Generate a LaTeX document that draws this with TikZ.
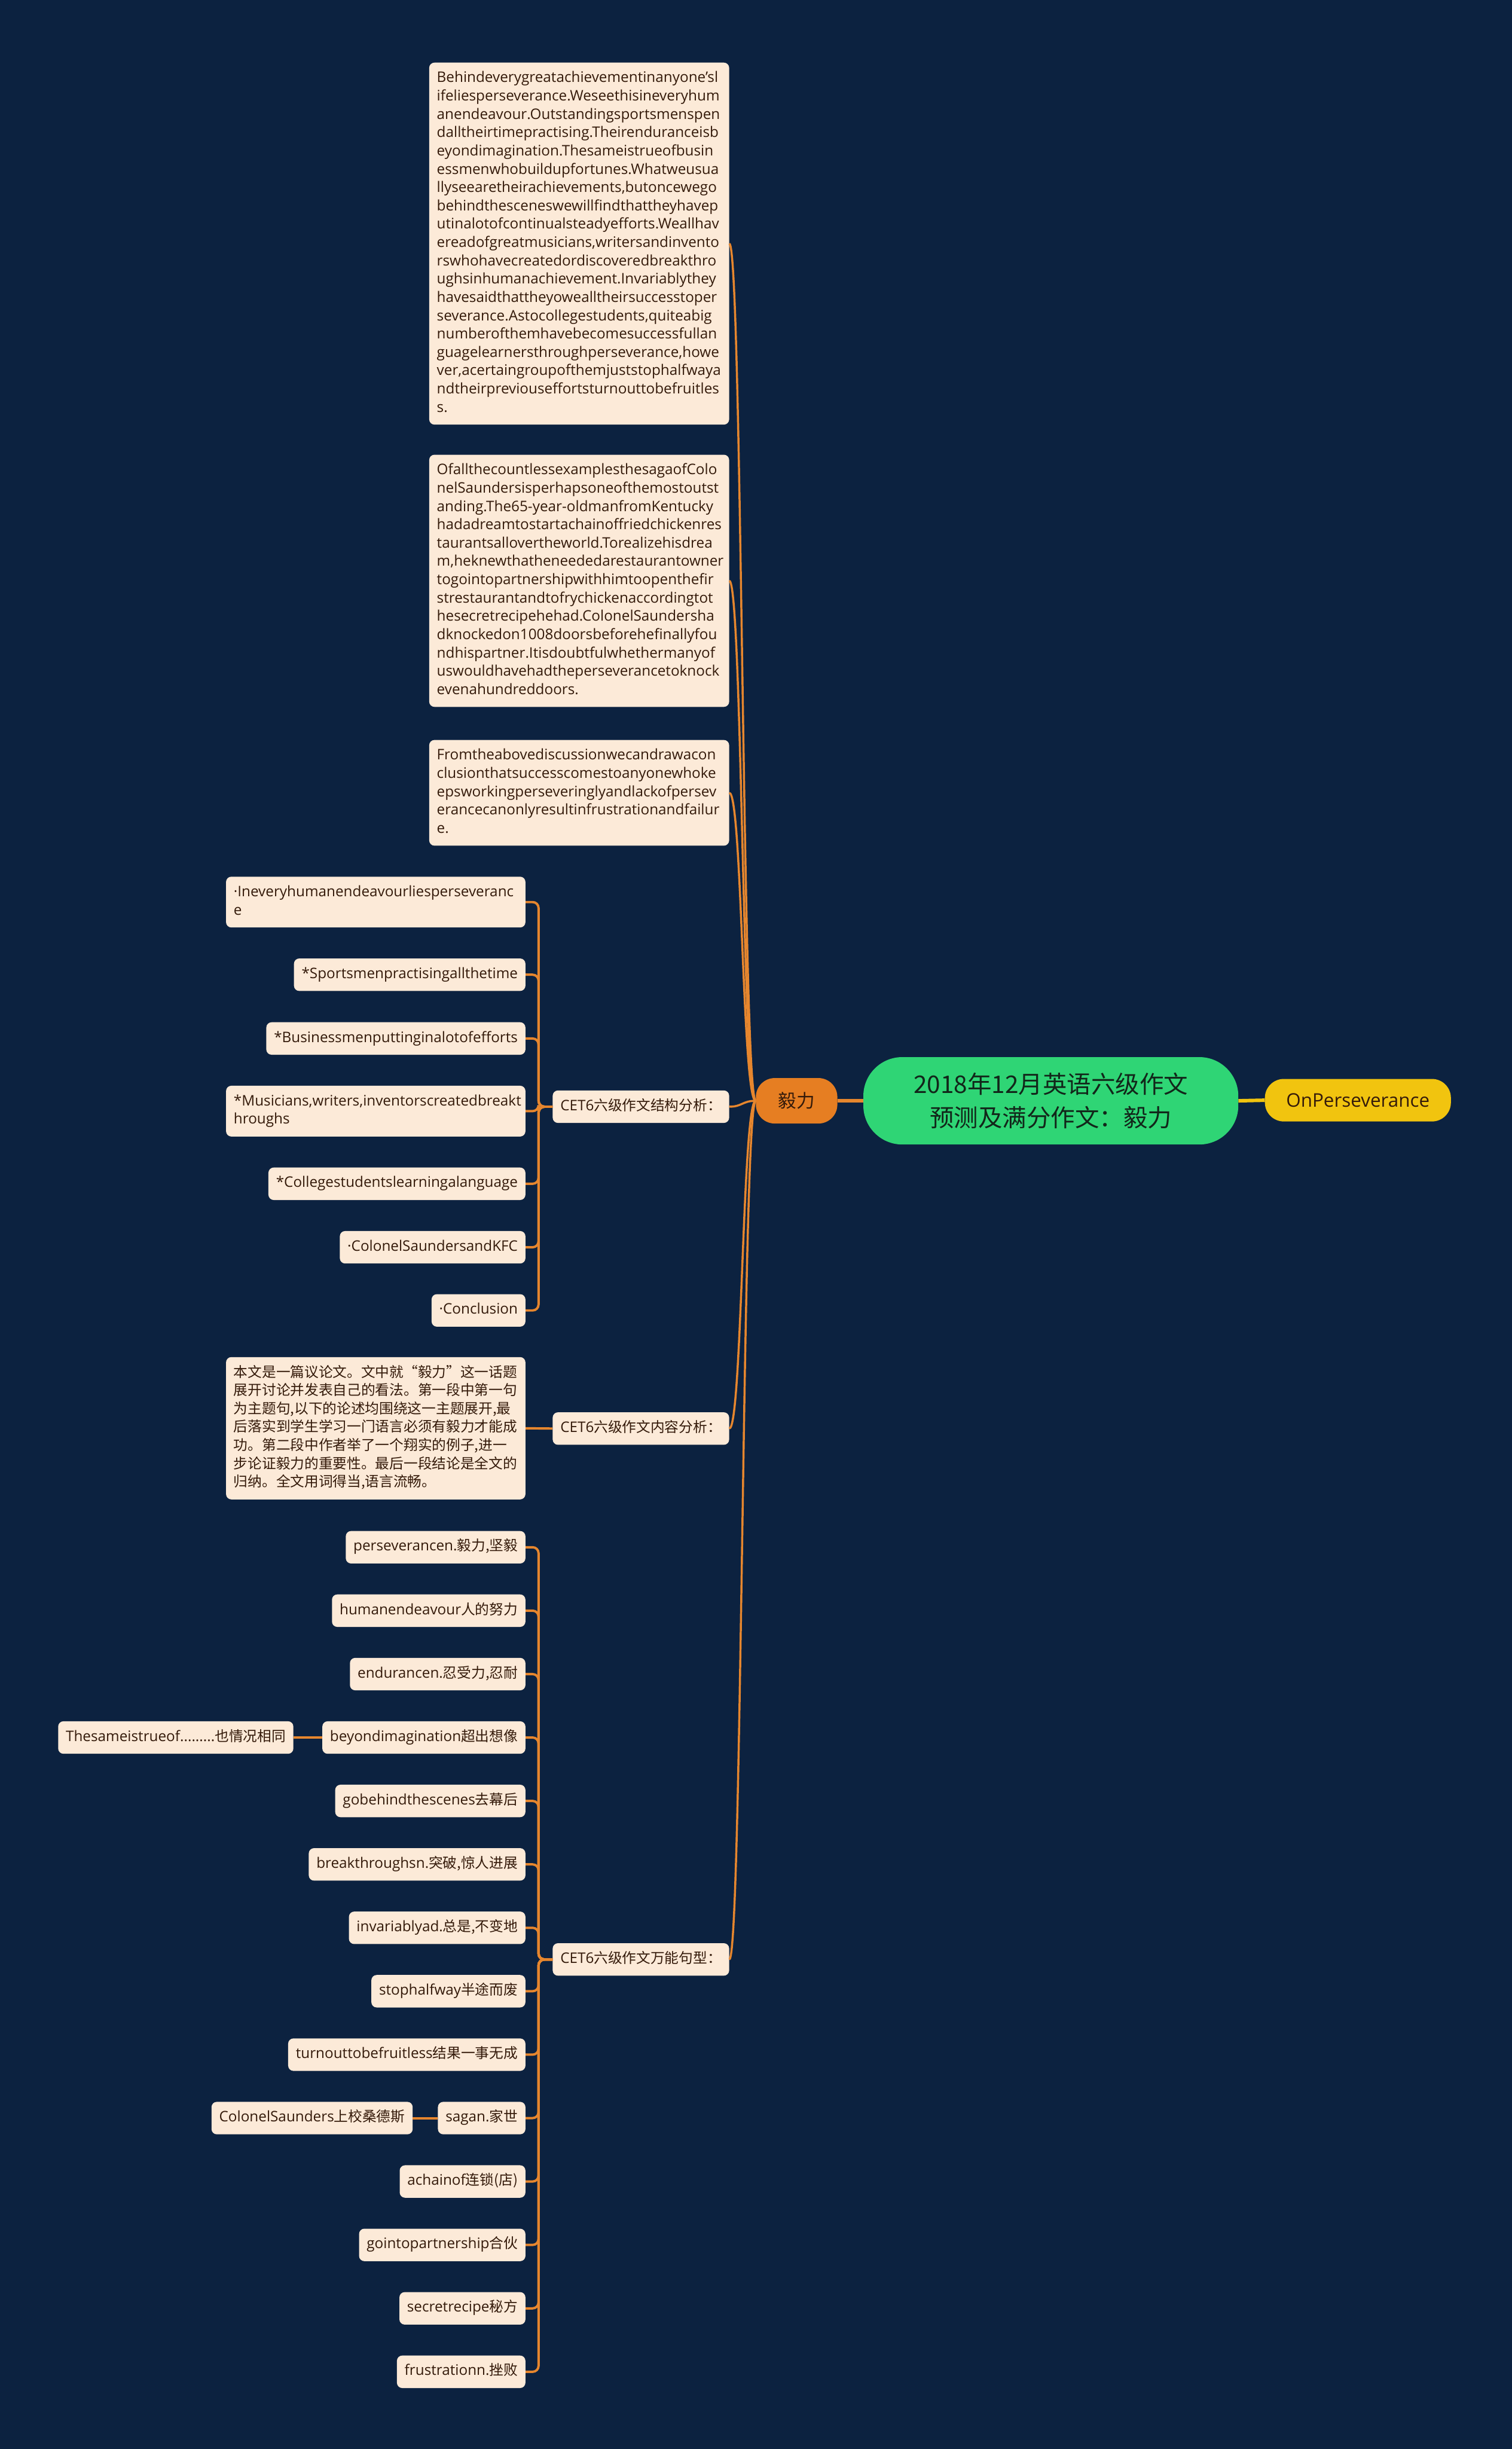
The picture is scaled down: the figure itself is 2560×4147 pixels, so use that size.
\documentclass[tikz,border=0pt]{standalone}
\usepackage{fontspec}
\setmainfont[Scale=1.025]{Open Sans}
\newfontfamily\cjk{Noto Sans CJK SC}
\definecolor{bg}{RGB}{12,34,64}
\definecolor{peach}{RGB}{252,234,216}
\definecolor{txt}{RGB}{52,26,10}
\definecolor{org}{RGB}{230,134,46}
\definecolor{rootg}{RGB}{47,213,117}
\definecolor{yel}{RGB}{241,196,15}
\definecolor{yiliorg}{RGB}{230,126,34}
\definecolor{roottxt}{RGB}{18,38,26}
\def\mystrut{\leavevmode\vrule height21.7pt depth9.3pt width0pt\relax}
\hyphenpenalty=10000
\exhyphenpenalty=10000
\tikzset{
 leaf/.style={fill=peach, text=txt, rounded corners=9pt, inner xsep=13pt, inner ysep=12pt, align=left,
   font=\fontsize{24}{31}\selectfont,
   execute at begin node=\mystrut, execute at end node=\mystrut},
 para/.style={leaf, text width=482pt, anchor=east},
 cleaf/.style={leaf, anchor=east},
 cjkpara/.style={leaf, anchor=east, text width=481pt,
   font=\cjk\fontsize{24}{31}\selectfont},
 trunk/.style={draw=org, line width=3.5pt},
 br/.style={draw=org, line width=4pt, rounded corners=10pt},
 rootnode/.style={fill=rootg, text=roottxt, rounded corners=66pt, minimum width=635pt, minimum height=148pt,
   inner sep=0pt, align=center, font=\cjk\fontsize{41}{57}\selectfont},
 yilinode/.style={fill=yiliorg, text=txt, rounded corners=32pt, minimum width=138pt, minimum height=77pt,
   inner sep=0pt, font=\cjk\fontsize{31}{36}\selectfont},
 onnode/.style={fill=yel, text=txt, rounded corners=32pt, minimum width=315pt, minimum height=72pt,
   inner sep=0pt, font=\fontsize{31}{36}\selectfont},
}
\begin{document}
\begin{tikzpicture}[x=1pt,y=-1pt]
\fill[bg] (0,0) rectangle (2560,4147);
\useasboundingbox (0,0) rectangle (2560,4147);

% central
\node[rootnode] (root) at (1779.5,1864) {2018年12月英语六级作文\\预测及满分作文：毅力};
\node[yilinode] (yili) at (1349,1864) {毅力};
\node[onnode] (on) at (2299.5,1863) {OnPerseverance};
\draw[org, line width=6pt] (yili.east) -- (root.west);
\draw[yel, line width=6pt] (root.east) -- (on.west);

% paragraph boxes
\node[para] (b1) at (1235,412.5) {Behindeverygreatachievementinanyone'sl\\
ifeliesperseverance.Weseethisineveryhum\\
anendeavour.Outstandingsportsmenspen\\
dalltheirtimepractising.Theirenduranceisb\\
eyondimagination.Thesameistrueofbusin\\
essmenwhobuildupfortunes.Whatweusua\\
llyseearetheirachievements,butoncewego\\
behindthesceneswewillfindthattheyhavep\\
utinalotofcontinualsteadyefforts.Weallhav\\
ereadofgreatmusicians,writersandinvento\\
rswhohavecreatedordiscoveredbreakthro\\
ughsinhumanachievement.Invariablythey\\
havesaidthattheyowealltheirsuccesstoper\\
severance.Astocollegestudents,quiteabig\\
numberofthemhavebecomesuccessfullan\\
guagelearnersthroughperseverance,howe\\
ver,acertaingroupofthemjuststophalfwaya\\
ndtheirpreviouseffortsturnouttobefruitles\\
s.};
\node[para] (b2) at (1235,983.5) {OfallthecountlessexamplesthesagaofColo\\
nelSaundersisperhapsoneofthemostoutst\\
anding.The65-year-oldmanfromKentucky\\
hadadreamtostartachainoffriedchickenres\\
taurantsallovertheworld.Torealizehisdrea\\
m,heknewthatheneededarestaurantowner\\
togointopartnershipwithhimtoopenthefir\\
strestaurantandtofrychickenaccordingtot\\
hesecretrecipehehad.ColonelSaundersha\\
dknockedon1008doorsbeforehefinallyfou\\
ndhispartner.Itisdoubtfulwhethermanyof\\
uswouldhavehadtheperseverancetoknock\\
evenahundreddoors.};
\node[para] (b3) at (1235,1342.5) {Fromtheabovediscussionwecandrawacon\\
clusionthatsuccesscomestoanyonewhoke\\
epsworkingperseveringlyandlackofpersev\\
erancecanonlyresultinfrustrationandfailur\\
e.};

% CET nodes
\node[cleaf] (cs) at (1235,1874) {CET6{\cjk 六级作文结构分析：}};
\node[cleaf] (cn) at (1235,2419) {CET6{\cjk 六级作文内容分析：}};
\node[cleaf] (cw) at (1235,3318) {CET6{\cjk 六级作文万能句型：}};

% trunk
\coordinate (tx) at (1257,0);
\foreach \c in {b1,b2,b3,cs,cn,cw}
  \draw[trunk] (yili.west) .. controls (yili.west -| tx) and (\c.east -| tx) .. (\c.east);

% structure children
\coordinate (bx) at (912,0);
\node[cleaf, text width=481pt] (s1) at (890,1527.5) {·Ineveryhumanendeavourliesperseveranc\\e};
\node[cleaf] (s2) at (890,1650.5) {*Sportsmenpractisingallthetime};
\node[cleaf] (s3) at (890,1758.5) {*Businessmenputtinginalotofefforts};
\node[cleaf, text width=481pt] (s4) at (890,1881.5) {*Musicians,writers,inventorscreatedbreakt\\hroughs};
\node[cleaf] (s5) at (890,2004.5) {*Collegestudentslearningalanguage};
\node[cleaf] (s6) at (890,2112) {·ColonelSaundersandKFC};
\node[cleaf] (s7) at (890,2219) {·Conclusion};
\foreach \c in {s1,s2,s3,s4,s5,s6,s7}
  \draw[br] (cs.west) -- (cs.west -| bx) |- (\c.east);

% content child
\node[cjkpara] (cp) at (890,2418.5) {本文是一篇议论文。文中就“毅力”这一话题\\
展开讨论并发表自己的看法。第一段中第一句\\
为主题句,以下的论述均围绕这一主题展开,最\\
后落实到学生学习一门语言必须有毅力才能成\\
功。第二段中作者举了一个翔实的例子,进一\\
步论证毅力的重要性。最后一段结论是全文的\\
归纳。全文用词得当,语言流畅。};
\draw[br] (cn.west) -- (cp.east);

% vocabulary children
\node[cleaf] (w1) at (890,2620) {perseverancen.{\cjk 毅力,坚毅}};
\node[cleaf] (w2) at (890,2727.4) {humanendeavour{\cjk 人的努力}};
\node[cleaf] (w3) at (890,2834.8) {endurancen.{\cjk 忍受力,忍耐}};
\node[cleaf] (w4) at (890,2942.2) {beyondimagination{\cjk 超出想像}};
\node[cleaf] (w5) at (890,3049.6) {gobehindthescenes{\cjk 去幕后}};
\node[cleaf] (w6) at (890,3157) {breakthroughsn.{\cjk 突破,惊人进展}};
\node[cleaf] (w7) at (890,3264.4) {invariablyad.{\cjk 总是,不变地}};
\node[cleaf] (w8) at (890,3371.8) {stophalfway{\cjk 半途而废}};
\node[cleaf] (w9) at (890,3479.2) {turnouttobefruitless{\cjk 结果一事无成}};
\node[cleaf] (w10) at (890,3586.6) {sagan.{\cjk 家世}};
\node[cleaf] (w11) at (890,3694) {achainof{\cjk 连锁(店)}};
\node[cleaf] (w12) at (890,3801.4) {gointopartnership{\cjk 合伙}};
\node[cleaf] (w13) at (890,3908.8) {secretrecipe{\cjk 秘方}};
\node[cleaf] (w14) at (890,4016.2) {frustrationn.{\cjk 挫败}};
\foreach \c in {w1,w2,w3,w4,w5,w6,w7,w8,w9,w10,w11,w12,w13,w14}
  \draw[br] (cw.west) -- (cw.west -| bx) |- (\c.east);

\node[cleaf] (w4a) at (497,2942.2) {Thesameistrueof.........{\cjk 也情况相同}};
\draw[br] (w4.west) -- (w4a.east);
\node[cleaf] (w10a) at (699,3586.6) {ColonelSaunders{\cjk 上校桑德斯}};
\draw[br] (w10.west) -- (w10a.east);
\end{tikzpicture}
\end{document}
